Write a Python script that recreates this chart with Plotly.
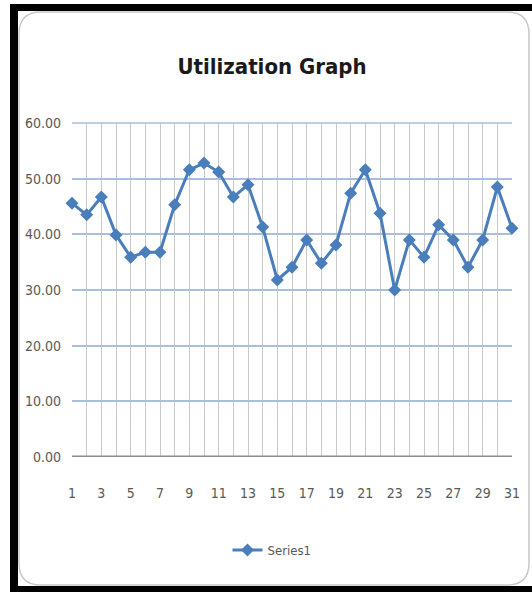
import plotly.graph_objects as go

# Daily utilization readings
days = list(range(1, 32))
utilization = [45.6, 43.5, 46.7, 39.9, 35.9, 36.8, 36.8, 45.3, 51.6, 52.8,
               51.2, 46.7, 48.9, 41.3, 31.8, 34.1, 39.0, 34.8, 38.1, 47.4,
               51.6, 43.8, 30.0, 39.0, 35.9, 41.7, 39.0, 34.1, 39.0, 48.5, 41.1]
y_ticks = [0, 10, 20, 30, 40, 50, 60]
x_ticks = list(range(1, 32, 2))

W, H = 532, 592
L, R, T, B = 72, 20, 123, 135
PW, PH = W - L - R, H - T - B

def px(x):
    return (x - L) / PW

def py(y):
    return (H - B - y) / PH

FONT = "DejaVu Sans Condensed, DejaVu Sans, sans-serif"

def font(size, color, weight="normal"):
    return dict(family=FONT, size=size, color=color, weight=weight)

fig = go.Figure()
fig.add_trace(go.Scatter(
    x=days, y=utilization, name="Series1", mode="lines+markers",
    line=dict(color="#4a7ebb", width=3),
    marker=dict(symbol="diamond", size=10, color="#4a7ebb"),
    cliponaxis=False,
))

shapes = []
# outer black frame
for x0, y0, x1, y1 in [(10, 4, 18, 592), (10, 4, 532, 11), (10, 586, 532, 592)]:
    shapes.append(dict(type="rect", xref="paper", yref="paper",
                       x0=px(x0), x1=px(x1), y0=py(y1), y1=py(y0),
                       fillcolor="black", line=dict(width=0), layer="above"))

# rounded chart-area outline
r = 22
xa, xb, ya, yb = 19, 529, 12, 585
pts = [
    ("M", (xa + r, ya)), ("L", (xb - r, ya)), ("Q", (xb, ya), (xb, ya + r)),
    ("L", (xb, yb - r)), ("Q", (xb, yb), (xb - r, yb)), ("L", (xa + r, yb)),
    ("Q", (xa, yb), (xa, yb - r)), ("L", (xa, ya + r)), ("Q", (xa, ya), (xa + r, ya)),
]
path = ""
for p in pts:
    cmd = p[0]
    coords = " ".join(f"{px(c[0]):.5f},{py(c[1]):.5f}" for c in p[1:])
    path += f"{cmd} {coords} "
path += "Z"
shapes.append(dict(type="path", xref="paper", yref="paper", path=path,
                   line=dict(color="#c8c8c8", width=1.5), layer="below"))

# top gridline of the value axis
shapes.append(dict(type="line", xref="paper", yref="paper", x0=0, x1=1, y0=1, y1=1,
                   line=dict(color="#a9bde0", width=1.5), layer="above"))
# category axis baseline
shapes.append(dict(type="line", xref="paper", yref="y", x0=0, x1=1, y0=0, y1=0,
                   line=dict(color="#8c8c8c", width=3), layer="above"))

fig.update_layout(
    width=W, height=H,
    margin=dict(l=L, r=R, t=T, b=B),
    paper_bgcolor="white", plot_bgcolor="white",
    title=dict(text="<b>Utilization Graph</b>", x=px(272), xref="paper",
               xanchor="center", y=1 - 66 / H, yanchor="middle",
               font=font(22, "#1a1a1a", "bold")),
    showlegend=True,
    legend=dict(orientation="h", x=px(272), xanchor="center", y=py(550),
                yanchor="middle", font=font(13, "#595959"), itemwidth=30),
    shapes=shapes,
    xaxis=dict(range=[1, 31], tickvals=x_ticks, ticktext=[str(v) for v in x_ticks],
               showgrid=True, gridcolor="#c9c9c9", gridwidth=1,
               minor=dict(tickvals=days, showgrid=True, gridcolor="#c9c9c9", gridwidth=1),
               zeroline=False, showline=False, ticks="",
               tickfont=font(14, "#595959"), ticklabelstandoff=26),
    yaxis=dict(range=[0, 60], tickvals=y_ticks, tickformat=".2f",
               showgrid=True, gridcolor="#a9bde0", gridwidth=1.5,
               zeroline=False, showline=False, ticks="",
               tickfont=font(14, "#595959"), ticklabelstandoff=10),
)

fig.write_html("out.html")
